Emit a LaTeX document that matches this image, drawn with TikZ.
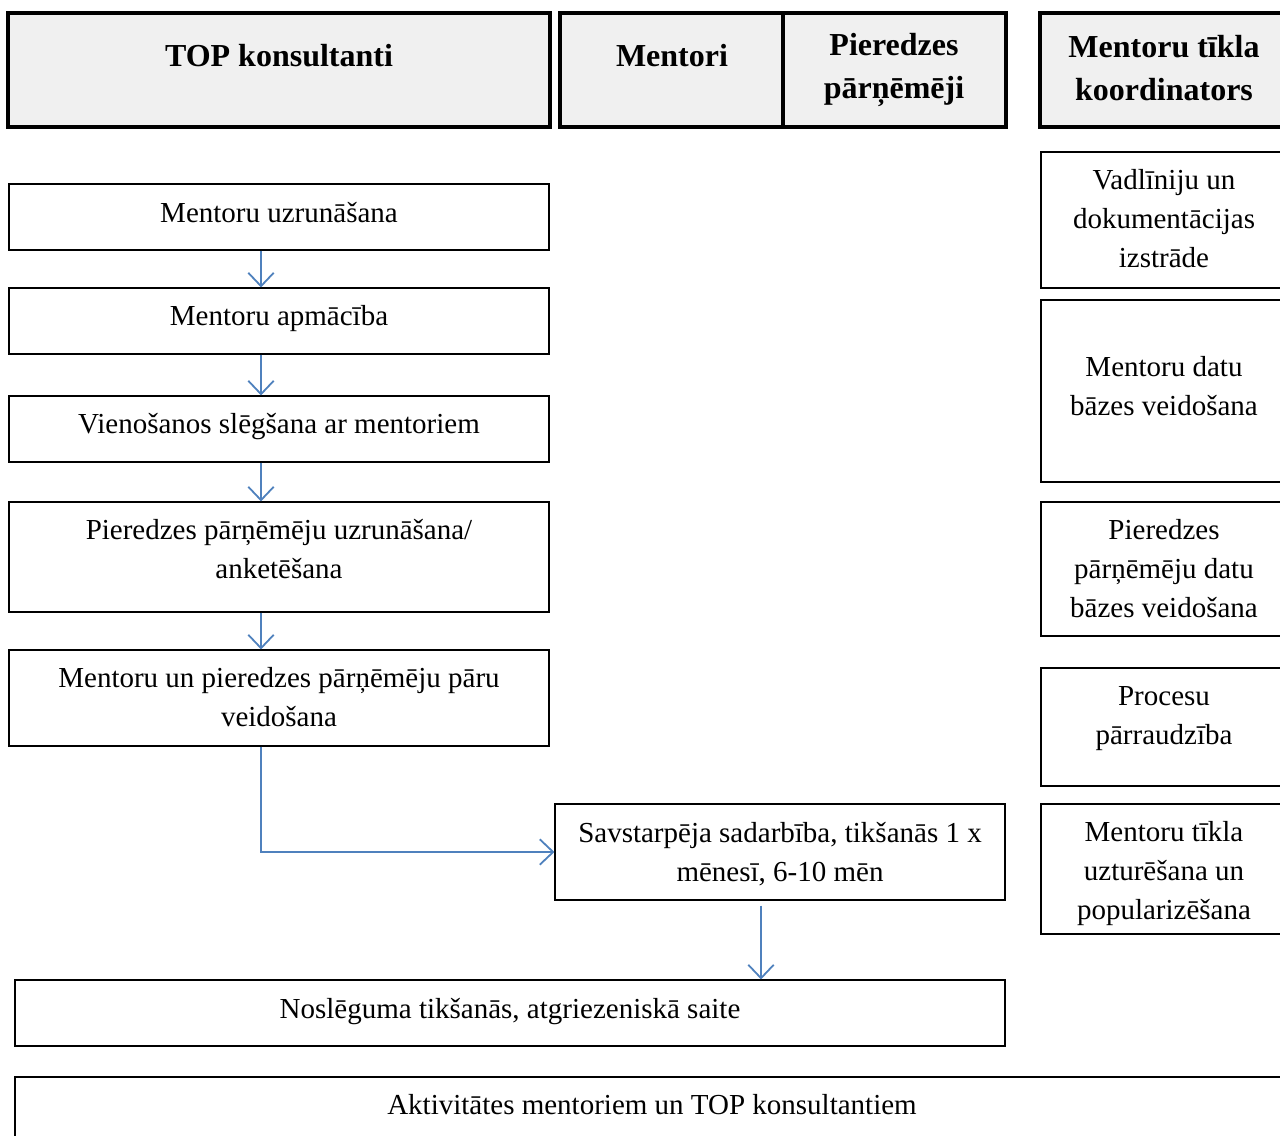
\documentclass[tikz,border=0pt]{standalone}
\usepackage{fontspec}
\setmainfont{Liberation Serif}
\usetikzlibrary{arrows.meta,fit}
\definecolor{hdrfill}{HTML}{F0F0F0}
\definecolor{flowblue}{HTML}{4F81BD}

\begin{document}
\begin{tikzpicture}[x=0.75pt,y=-0.75pt,
  hdr/.style={draw=black, line width=3pt, fill=hdrfill, inner sep=0pt},
  stepbox/.style={draw=black, line width=0.8pt, fill=white, inner sep=0pt},
  hdrtext/.style={font=\fontsize{24}{32.25}\selectfont\bfseries, align=center, inner sep=0pt},
  bodytext/.style={font=\fontsize{21.75}{29.25}\selectfont, align=center, inner sep=0pt},
  flow/.style={draw=flowblue, line width=1.35pt, -{Straight Barb[length=10pt,width=19pt]}}
]
\useasboundingbox (0,0) rectangle (1280,1135);
\clip (0,0) rectangle (1280,1135);

% column headers
\node[hdr, fit={(8,13) (550,127)}] (hTop) {};
\node[hdr, fit={(560,13) (1006,127)}] (hMid) {};
\draw[line width=3pt] (783,13) -- (783,127);
\node[hdr, fit={(1040,13) (1292,127)}] (hCoord) {};
\node[hdrtext] (hTopT) at (279,56) {TOP konsultanti};
\node[hdrtext] (hMentT) at (672,56) {Mentori};
\node[hdrtext] (hPierT) at (894,70) {Pieredzes\\pārņēmēji};
\node[hdrtext] (hCoordT) at (1164,68) {Mentoru tīkla\\koordinators};

% main process column
\node[stepbox, fit={(9,184) (549,250)}] (b1) {};
\node[stepbox, fit={(9,288) (549,354)}] (b2) {};
\node[stepbox, fit={(9,396) (549,462)}] (b3) {};
\node[stepbox, fit={(9,502) (549,612)}] (b4) {};
\node[stepbox, fit={(9,650) (549,746)}] (b5) {};
\node[stepbox, fit={(555,804) (1005,900)}] (s1) {};
\node[stepbox, fit={(15,980) (1005,1046)}] (n1) {};
\node[stepbox, fit={(15,1077) (1292,1145)}] (a1) {};

\node[bodytext] (b1t) at (279,213) {Mentoru uzrunāšana};
\node[bodytext] (b2t) at (279,319) {Mentoru apmācība};
\node[bodytext] (b3t) at (279,427) {Vienošanos slēgšana ar mentoriem};
\node[bodytext] (b4t) at (279,549.5) {Pieredzes pārņēmēju uzrunāšana/\\anketēšana};
\node[bodytext] (b5t) at (279,697.5) {Mentoru un pieredzes pārņēmēju pāru\\veidošana};
\node[bodytext] (s1t) at (780,854) {Savstarpēja sadarbība, tikšanās 1 x\\mēnesī, 6-10 mēn};
\node[bodytext] (n1t) at (510,1012) {Noslēguma tikšanās, atgriezeniskā saite};
\node[bodytext] (a1t) at (652,1105) {Aktivitātes mentoriem un TOP konsultantiem};

% coordinator column
\node[stepbox, fit={(1041,152) (1292,288)}] (r1) {};
\node[stepbox, fit={(1041,300) (1292,482)}] (r2) {};
\node[stepbox, fit={(1041,502) (1292,636)}] (r3) {};
\node[stepbox, fit={(1041,668) (1292,786)}] (r4) {};
\node[stepbox, fit={(1041,804) (1292,934)}] (r5) {};
\node[bodytext] (r1t) at (1164,219) {Vadlīniju un\\dokumentācijas\\izstrāde};
\node[bodytext] (r2t) at (1164,386.5) {Mentoru datu\\bāzes veidošana};
\node[bodytext] (r3t) at (1164,569) {Pieredzes\\pārņēmēju datu\\bāzes veidošana};
\node[bodytext] (r4t) at (1164,718.5) {Procesu\\pārraudzība};
\node[bodytext] (r5t) at (1164,874) {Mentoru tīkla\\uzturēšana un\\popularizēšana};

% connectors
\coordinate (ax) at (261,0);
\coordinate (bx) at (761,0);
\draw[flow] (b1.south -| ax) -- (b2.north -| ax);
\draw[flow] (b2.south -| ax) -- (b3.north -| ax);
\draw[flow] (b3.south -| ax) -- (b4.north -| ax);
\draw[flow] (b4.south -| ax) -- (b5.north -| ax);
\draw[flow] (b5.south -| ax) |- (s1.west);
\draw[flow] ([yshift=-3.75pt]s1.south -| bx) -- (n1.north -| bx);
\end{tikzpicture}
\end{document}
